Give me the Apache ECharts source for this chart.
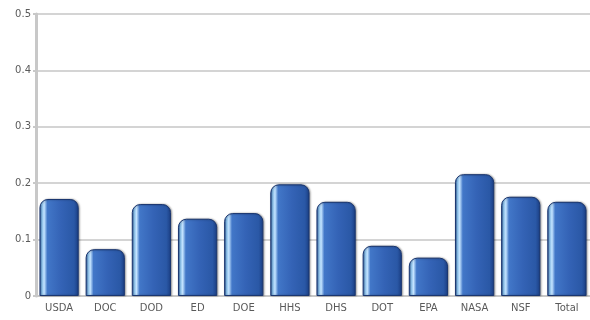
<!DOCTYPE html>
<html>
<head>
<meta charset="utf-8">
<script src="https://cdn.jsdelivr.net/npm/echarts@6/dist/echarts.min.js"></script>
<style>
  html, body { margin: 0; padding: 0; background: #fff; }
</style>
</head>
<body>
<div id="chart" style="width: 590px; height: 320px"></div>
<script>
// agencies on the x axis
const agencies = ['USDA', 'DOC', 'DOD', 'ED', 'DOE', 'HHS', 'DHS', 'DOT', 'EPA', 'NASA', 'NSF', 'Total'];
// bar values
const values = [0.172, 0.083, 0.163, 0.137, 0.147, 0.198, 0.167, 0.089, 0.068, 0.216, 0.176, 0.167];
// y axis range
const yMin = 0;
const yMax = 0.5;
const yStep = 0.1;

const chart = echarts.init(document.getElementById('chart'));

// cylinder-ish blue fill, light streak near the left edge
const barFill = new echarts.graphic.LinearGradient(0, 0, 1, 0, [
  { offset: 0, color: '#24509a' },
  { offset: 0.06, color: '#8cc4f0' },
  { offset: 0.12, color: '#c4e4ff' },
  { offset: 0.2, color: '#4277c8' },
  { offset: 0.55, color: '#3463b6' },
  { offset: 0.88, color: '#2a58a6' },
  { offset: 1, color: '#1a3d82' }
]);

chart.setOption({
  animation: false,
  grid: {
    left: 36,
    right: 0,
    top: 14,
    bottom: 24,
    containLabel: false
  },
  xAxis: {
    type: 'category',
    data: agencies,
    axisLine: { show: true, lineStyle: { color: '#c8c8c8', width: 2 } },
    axisTick: { show: false },
    axisLabel: {
      color: '#5a5a5a',
      fontFamily: 'DejaVu Sans',
      fontSize: 10,
      margin: 7
    }
  },
  yAxis: {
    type: 'value',
    min: yMin,
    max: yMax,
    interval: yStep,
    axisLine: { show: true, lineStyle: { color: '#c8c8c8', width: 3 } },
    axisTick: { show: true, length: 3, lineStyle: { color: '#c8c8c8', width: 2 } },
    axisLabel: {
      color: '#5a5a5a',
      fontFamily: 'DejaVu Sans',
      fontSize: 10,
      margin: 5,
      formatter: v => (v === 0 ? '0' : v.toFixed(1))
    },
    splitLine: { show: true, lineStyle: { color: '#d4d4d4', width: 2 } }
  },
  series: [
    {
      type: 'bar',
      data: values,
      barWidth: '85%',
      itemStyle: {
        color: barFill,
        borderColor: '#1a3670',
        borderWidth: 1,
        borderRadius: [8, 8, 0, 0],
        shadowColor: 'rgba(0,0,0,0.35)',
        shadowBlur: 2,
        shadowOffsetX: 1,
        shadowOffsetY: 0
      }
    }
  ]
});
</script>
</body>
</html>
